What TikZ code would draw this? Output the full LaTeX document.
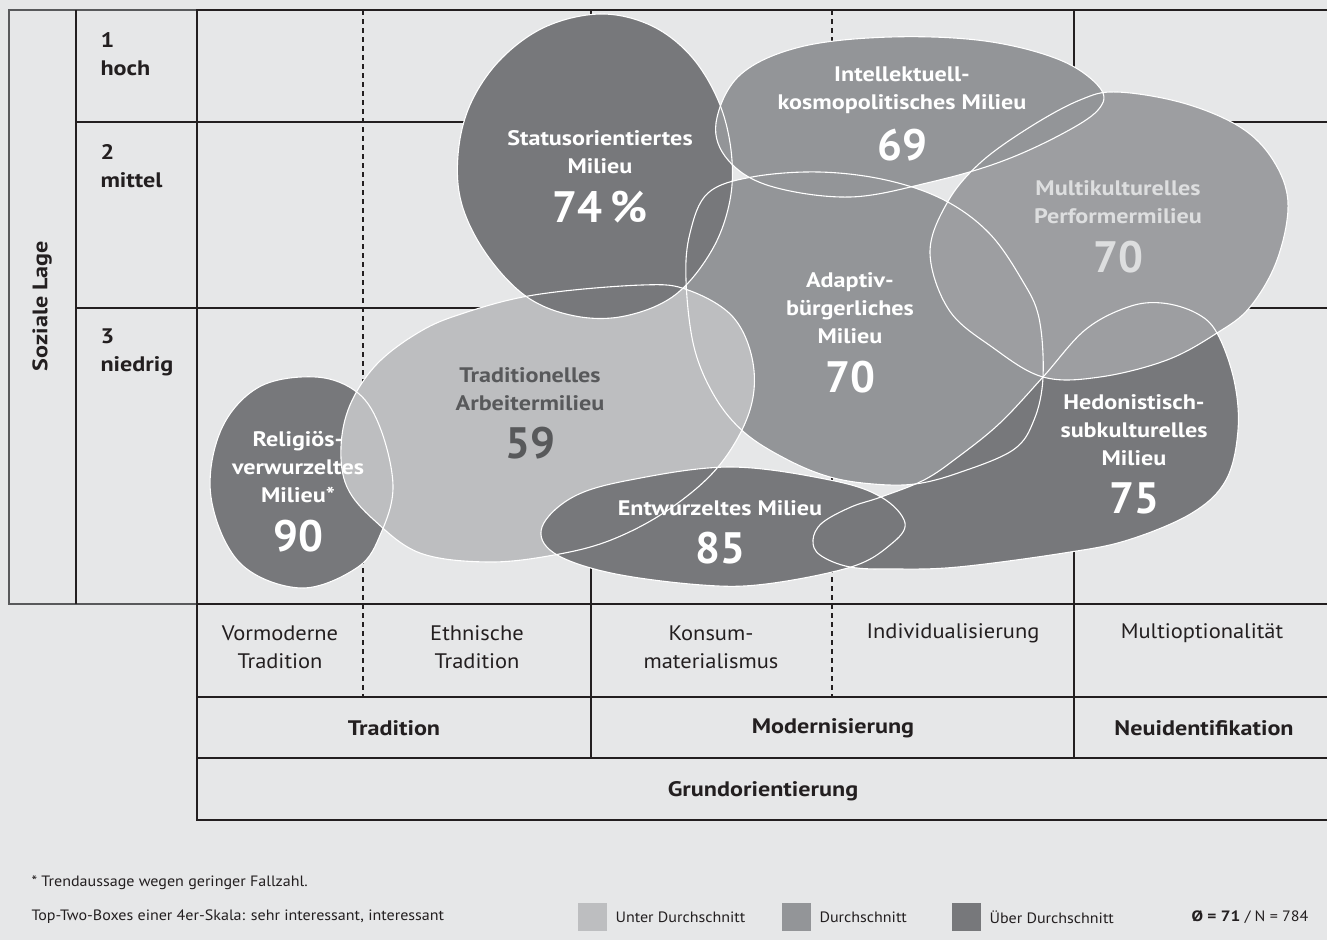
\documentclass[tikz,border=0pt]{standalone}
\usepackage{fontspec}
\setmainfont{PT Sans}[FakeStretch=1.07, BoldFeatures={FakeStretch=1.15}]
\newfontfamily\sharefont{PT Sans}
\usepackage{xcolor}
\usepackage{tikz}

\definecolor{bggray}{HTML}{E6E7E8}
\definecolor{lowgray}{HTML}{BDBEC0}
\definecolor{midgray}{HTML}{939598}
\definecolor{multigray}{HTML}{9D9EA1}
\definecolor{highgray}{HTML}{77787B}
\definecolor{linegray}{HTML}{231F20}
\definecolor{boxgray}{HTML}{58595B}
\definecolor{multitext}{HTML}{DDDEDF}

\tikzset{
  gridline/.style={draw=linegray, line width=1.1pt},
  frameline/.style={draw=linegray, line width=2.6pt},
  boxline/.style={draw=boxgray, line width=1.5pt},
  sepline/.style={gridline, dash pattern=on 5pt off 4pt},
  milieu/.style={align=center, text=white, font=\bfseries\fontsize{21}{28}\selectfont},
  share/.style={text=white, font=\sharefont\bfseries\fontsize{44}{44}\selectfont},
  axistext/.style={align=center, text=linegray, font=\fontsize{21}{28}\selectfont},
  axishead/.style={text=linegray, font=\bfseries\fontsize{21}{28}\selectfont},
  foot/.style={anchor=west, text=linegray, font=\fontsize{15}{17}\selectfont},
}

% outline points of the milieus, in pixels of the map
\def\ptsStatus{(600,14) (650,25) (690,55) (718,100) (731,150) (730,200) (712,250) (675,295) (625,316) (575,316) (527,297) (487,255) (462,205) (458,155) (470,105) (500,60) (545,27)}
\def\ptsIntellekt{(890,37) (985,41) (1060,60) (1100,88) (1098,110) (1060,135) (1000,162) (931,182) (850,197) (770,186) (728,160) (716,123) (740,75) (800,47)}
\def\ptsMulti{(1117,92) (1183,103) (1240,127) (1273,160) (1288,203) (1277,260) (1250,307) (1217,333) (1167,360) (1100,377) (1043,377) (992,347) (949,310) (930,253) (947,203) (980,163) (1030,127) (1080,100)}
\def\ptsAdaptiv{(819,172) (886,180) (944,200) (989,233) (1022,280) (1039,318) (1043,377) (1034,420) (1013,450) (958,473) (915,484) (873,484) (830,477) (788,460) (745,433) (715,397) (694,347) (686,280) (690,233) (708,193) (752,177)}
\def\ptsTrad{(642,285) (688,290) (733,317) (753,363) (749,413) (718,467) (668,510) (611,540) (554,555) (488,562) (420,553) (374,520) (347,487) (341,447) (350,405) (376,365) (416,334) (458,315) (534,295)}
\def\ptsReligioes{(316,377) (358,393) (381,430) (393,487) (381,533) (358,567) (301,588) (240,563) (211,497) (221,430) (259,387)}
\def\ptsEntwurzelt{(542,527) (573,497) (630,480) (730,467) (830,480) (881,497) (905,523) (890,545) (851,567) (766,584) (702,585) (611,573) (554,553)}
\def\ptsHedon{(1162,303) (1196,313) (1217,333) (1234,380) (1238,430) (1226,480) (1192,513) (1128,540) (1064,553) (958,567) (894,569) (850,567) (820,555) (813,540) (822,523) (851,507) (881,497) (924,480) (958,457) (1000,423) (1043,377) (1085,330) (1128,307)}

\newcommand{\milieushape}[2]{%
  \edef\milieutmp{\noexpand\path[#1] plot[smooth cycle, tension=0.6] coordinates {#2};}\milieutmp}

\begin{document}
\begin{tikzpicture}[x=1pt, y=-1pt]
   \useasboundingbox (0,0) rectangle (1327,940);
   \fill[bggray] (0,0) rectangle (1327,940);

   % Soziale Lage
   \draw[boxline] (197,10) -- (9,10) -- (9,604) -- (197,604);
   \draw[gridline] (76,10) -- (76,604);
   \foreach \y in {122,308}{
      \draw[gridline] (76,\y) -- (1327,\y);
   }

   % Grundorientierung
   \foreach \x in {591,1074}{
      \draw[gridline] (\x,10) -- (\x,758);
   }
   \foreach \x in {363,832}{
      \draw[sepline] (\x,10) -- (\x,697);
   }
   \foreach \y in {697,758}{
      \draw[gridline] (197,\y) -- (1327,\y);
   }
   \draw[gridline, line width=1.5pt] (197,604) -- (197,820) -- (1327,820);
   \draw[frameline] (1327,10) -- (197,10) -- (197,604) -- (1327,604);

   % Milieus, back to front
   \foreach \pts/\col in {\ptsAdaptiv/midgray, \ptsReligioes/highgray, \ptsTrad/lowgray, \ptsStatus/highgray,
                          \ptsHedon/highgray, \ptsEntwurzelt/highgray, \ptsMulti/multigray, \ptsIntellekt/midgray}{
      \milieushape{fill=\col}{\pts}
   }
   \foreach \pts in {\ptsAdaptiv, \ptsReligioes, \ptsTrad, \ptsStatus, \ptsHedon, \ptsEntwurzelt, \ptsMulti, \ptsIntellekt}{
      \milieushape{draw=white, line width=1.1pt}{\pts}
   }

   \node[milieu] (status) at (600,152) {Statusorientiertes\\Milieu};
   \node[share] (statusval) at (600,207) {74\,\%};
   \node[milieu] (intellekt) at (902,90) {Intellektuell-\\kosmopolitisches Milieu};
   \node[share] (intellektval) at (902,145) {69};
   \node[milieu, text=multitext] (multi) at (1118,202) {Multikulturelles\\Performermilieu};
   \node[share, text=multitext] (multival) at (1118,257) {70};
   \node[milieu] (adaptiv) at (850,308) {Adaptiv-\\bürgerliches\\Milieu};
   \node[share] (adaptivval) at (850,377) {70};
   \node[milieu, text=boxgray] (trad) at (530,389) {Traditionelles\\Arbeitermilieu};
   \node[share, text=boxgray] (tradval) at (530,443) {59};
   \node[milieu] (religioes) at (298,467) {Religiös-\\verwurzeltes\\Milieu*};
   \node[share] (religioesval) at (298,536) {90};
   \node[milieu] (entwurzelt) at (720,508) {Entwurzeltes Milieu};
   \node[share] (entwurzeltval) at (720,548) {85};
   \node[milieu] (hedon) at (1134,430) {Hedonistisch-\\subkulturelles\\Milieu};
   \node[share] (hedonval) at (1134,498) {75};

   % Achsen
   \node[axishead, rotate=90] (lage) at (42,306) {Soziale Lage};
   \node[axishead, align=left, anchor=west] (hoch) at (97,54) {1\\hoch};
   \node[axishead, align=left, anchor=west] (mittel) at (97,166) {2\\mittel};
   \node[axishead, align=left, anchor=west] (niedrig) at (97,352) {3\\niedrig};

   \node[axistext] (vormod) at (280,647) {Vormoderne\\Tradition};
   \node[axistext] (ethn) at (477,647) {Ethnische\\Tradition};
   \node[axistext] (konsum) at (711,647) {Konsum-\\materialismus};
   \node[axistext] (indiv) at (953,633) {Individualisierung};
   \node[axistext] (multiopt) at (1202,633) {Multioptionalität};
   \node[axishead] (tradition) at (394,728) {Tradition};
   \node[axishead] (modern) at (833,728) {Modernisierung};
   \node[axishead] (neuident) at (1204,728) {Neuidentifikation};
   \node[axishead] (grund) at (763,791) {Grundorientierung};

   % Legende
   \node[foot] (trend) at (28,883) {* Trendaussage wegen geringer Fallzahl.};
   \node[foot] (skala) at (28,917) {Top-Two-Boxes einer 4er-Skala: sehr interessant, interessant};
   \foreach \x/\col/\txt in {578/lowgray/Unter Durchschnitt, 782/midgray/Durchschnitt, 952/highgray/Über Durchschnitt}{
      \fill[\col] (\x,903) rectangle (\x+29,931);
      \node[foot] at (\x+34,917) {\txt};
   }
   \node[foot, anchor=east] (mittelwert) at (1312,917) {\textbf{Ø = 71} / N = 784};
\end{tikzpicture}
\end{document}
